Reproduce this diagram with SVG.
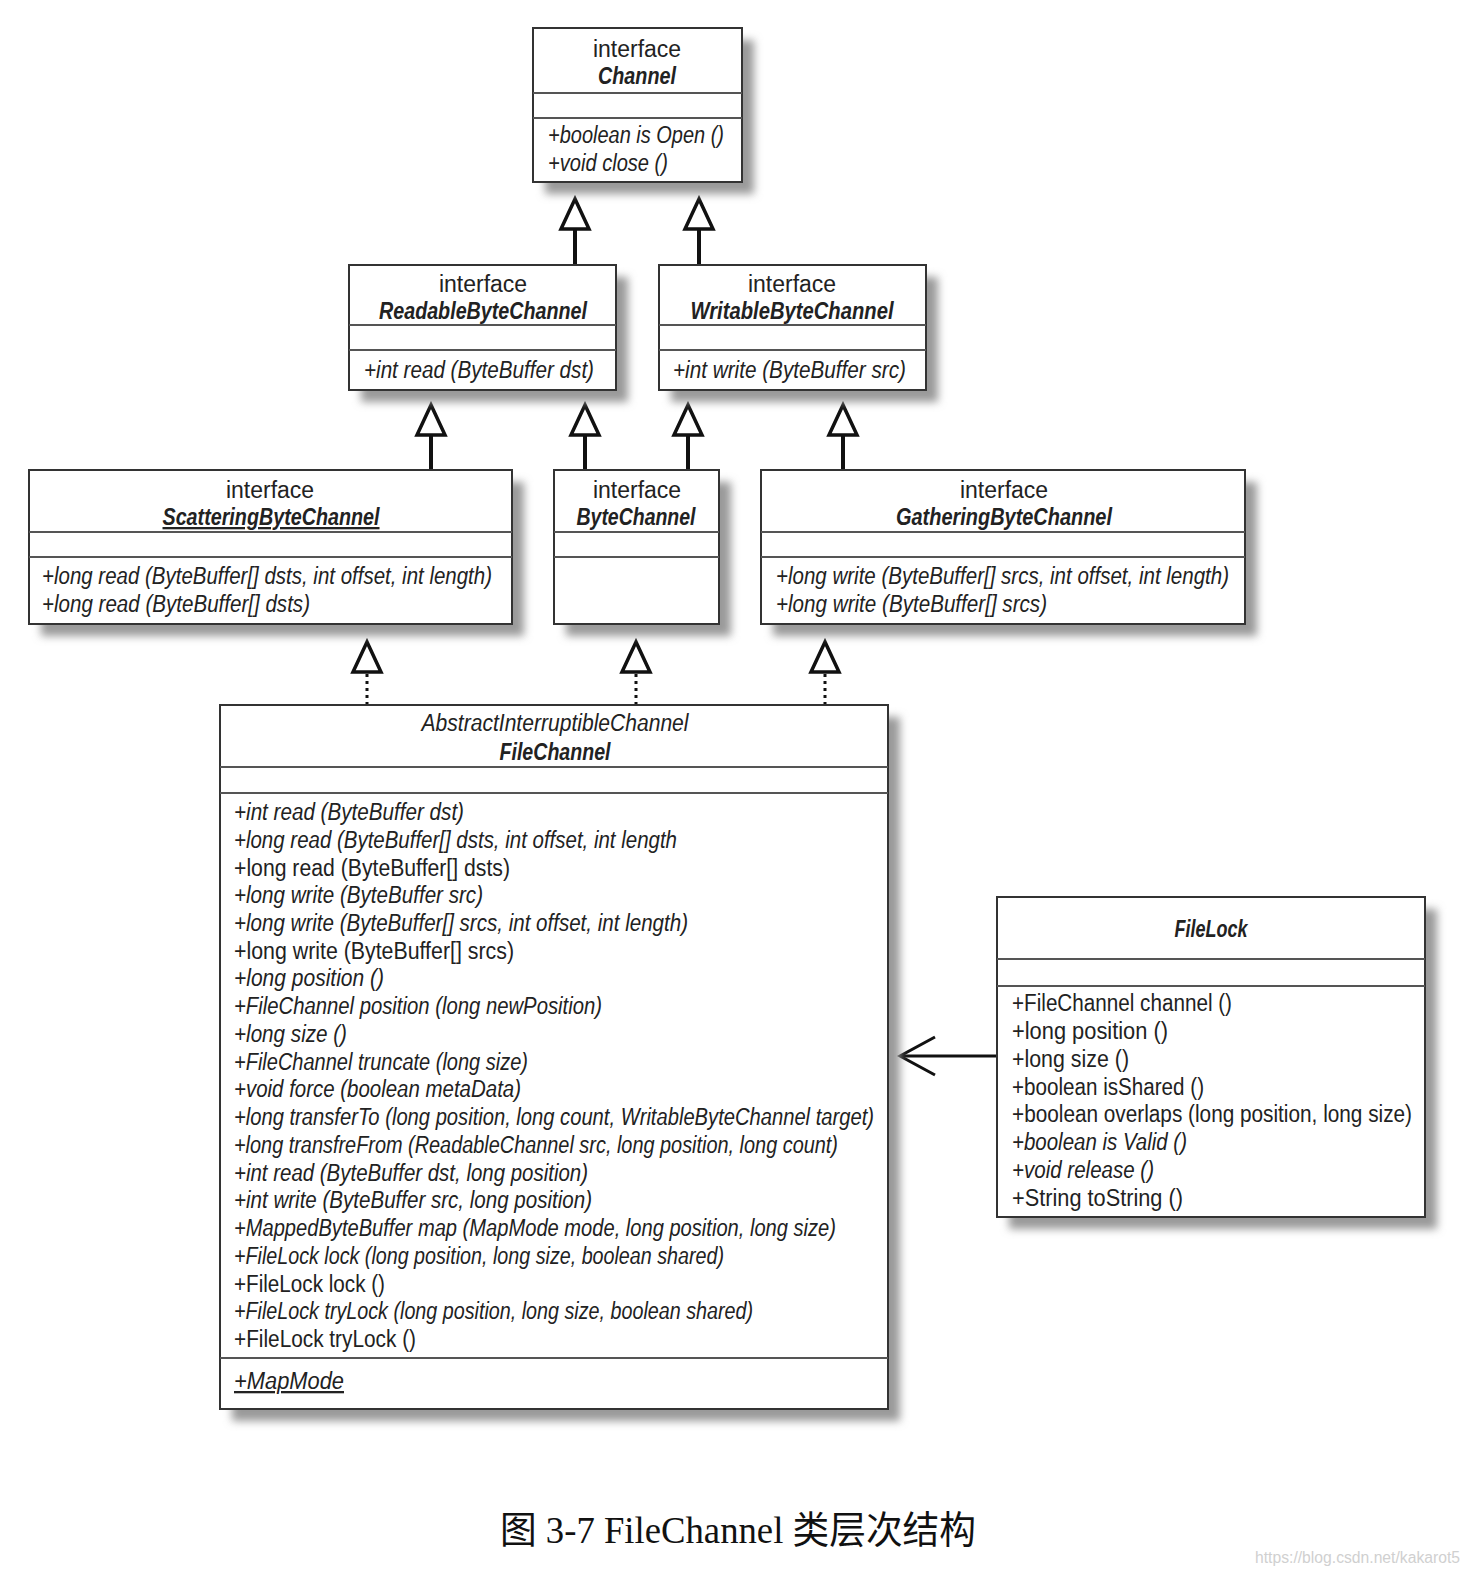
<svg xmlns="http://www.w3.org/2000/svg" width="1476" height="1578" viewBox="0 0 1476 1578">
<defs>
<filter id="blur" x="-10%" y="-10%" width="120%" height="120%"><feGaussianBlur stdDeviation="4"/></filter>
</defs>
<style>
.t{font-family:"Liberation Sans Narrow","Liberation Sans",Arial,sans-serif;font-size:23px;fill:#222}
.c{text-anchor:middle}
.i{font-style:italic}
.b{font-style:italic;font-weight:bold}
.u{text-decoration:underline}
.box{fill:#fff;stroke:#333;stroke-width:2}
.dv{stroke:#555;stroke-width:2}
.sh{fill:#9a9a9a;filter:url(#blur)}
.gen{stroke:#111;stroke-width:4;fill:none}
.tri{fill:#fff;stroke:#111;stroke-width:3.5;stroke-linejoin:miter}
.dot{stroke:#111;stroke-width:3;stroke-dasharray:3 4;fill:none}
.as{stroke:#111;stroke-width:3;fill:none}
</style>
<rect width="1476" height="1578" fill="#fff"/>

<g id="connectors">
<line class="gen" x1="575" y1="265" x2="575" y2="229"/><polygon class="tri" points="575,199 561,229 589,229"/>
<line class="gen" x1="699" y1="265" x2="699" y2="229"/><polygon class="tri" points="699,199 685,229 713,229"/>
<line class="gen" x1="431" y1="470" x2="431" y2="435"/><polygon class="tri" points="431,405 417,435 445,435"/>
<line class="gen" x1="585" y1="470" x2="585" y2="435"/><polygon class="tri" points="585,405 571,435 599,435"/>
<line class="gen" x1="688" y1="470" x2="688" y2="435"/><polygon class="tri" points="688,405 674,435 702,435"/>
<line class="gen" x1="843" y1="470" x2="843" y2="435"/><polygon class="tri" points="843,405 829,435 857,435"/>
<line class="dot" x1="367" y1="705" x2="367" y2="672"/><polygon class="tri" points="367,642 353,672 381,672"/>
<line class="dot" x1="636" y1="705" x2="636" y2="672"/><polygon class="tri" points="636,642 622,672 650,672"/>
<line class="dot" x1="825" y1="705" x2="825" y2="672"/><polygon class="tri" points="825,642 811,672 839,672"/>
<line class="as" x1="997" y1="1056" x2="901" y2="1056"/><polyline class="as" points="935,1037 900,1056 935,1075"/>
</g>

<g id="Channel">
<rect class="sh" x="545" y="40" width="209" height="154"/>
<rect class="box" x="533" y="28" width="209" height="154"/>
<line class="dv" x1="533" y1="93" x2="742" y2="93"/><line class="dv" x1="533" y1="118" x2="742" y2="118"/>
<text class="t c" x="637" y="57">interface</text>
<text class="t c b" x="637" y="84" textLength="78" lengthAdjust="spacingAndGlyphs">Channel</text>
<text class="t i" x="548" y="143" textLength="176" lengthAdjust="spacingAndGlyphs">+boolean is Open ()</text>
<text class="t i" x="548" y="171" textLength="120" lengthAdjust="spacingAndGlyphs">+void close ()</text>
</g>

<g id="ReadableByteChannel">
<rect class="sh" x="361" y="277" width="267" height="125"/>
<rect class="box" x="349" y="265" width="267" height="125"/>
<line class="dv" x1="349" y1="325" x2="616" y2="325"/><line class="dv" x1="349" y1="350" x2="616" y2="350"/>
<text class="t c" x="483" y="292">interface</text>
<text class="t c b" x="483" y="319" textLength="208" lengthAdjust="spacingAndGlyphs">ReadableByteChannel</text>
<text class="t i" x="364" y="378" textLength="230" lengthAdjust="spacingAndGlyphs">+int read (ByteBuffer dst)</text>
</g>

<g id="WritableByteChannel">
<rect class="sh" x="671" y="277" width="267" height="125"/>
<rect class="box" x="659" y="265" width="267" height="125"/>
<line class="dv" x1="659" y1="325" x2="926" y2="325"/><line class="dv" x1="659" y1="350" x2="926" y2="350"/>
<text class="t c" x="792" y="292">interface</text>
<text class="t c b" x="792" y="319" textLength="203" lengthAdjust="spacingAndGlyphs">WritableByteChannel</text>
<text class="t i" x="673" y="378" textLength="233" lengthAdjust="spacingAndGlyphs">+int write (ByteBuffer src)</text>
</g>

<g id="ScatteringByteChannel">
<rect class="sh" x="41" y="482" width="483" height="154"/>
<rect class="box" x="29" y="470" width="483" height="154"/>
<line class="dv" x1="29" y1="532" x2="512" y2="532"/><line class="dv" x1="29" y1="557" x2="512" y2="557"/>
<text class="t c" x="270" y="498">interface</text>
<text class="t c b u" x="271" y="525" textLength="217" lengthAdjust="spacingAndGlyphs">ScatteringByteChannel</text>
<text class="t i" x="42" y="584" textLength="450" lengthAdjust="spacingAndGlyphs">+long read (ByteBuffer[] dsts, int offset, int length)</text>
<text class="t i" x="42" y="612" textLength="268" lengthAdjust="spacingAndGlyphs">+long read (ByteBuffer[] dsts)</text>
</g>

<g id="ByteChannel">
<rect class="sh" x="566" y="482" width="165" height="154"/>
<rect class="box" x="554" y="470" width="165" height="154"/>
<line class="dv" x1="554" y1="532" x2="719" y2="532"/><line class="dv" x1="554" y1="557" x2="719" y2="557"/>
<text class="t c" x="637" y="498">interface</text>
<text class="t c b" x="636" y="525" textLength="119" lengthAdjust="spacingAndGlyphs">ByteChannel</text>
</g>

<g id="GatheringByteChannel">
<rect class="sh" x="773" y="482" width="484" height="154"/>
<rect class="box" x="761" y="470" width="484" height="154"/>
<line class="dv" x1="761" y1="532" x2="1245" y2="532"/><line class="dv" x1="761" y1="557" x2="1245" y2="557"/>
<text class="t c" x="1004" y="498">interface</text>
<text class="t c b" x="1004" y="525" textLength="216" lengthAdjust="spacingAndGlyphs">GatheringByteChannel</text>
<text class="t i" x="776" y="584" textLength="453" lengthAdjust="spacingAndGlyphs">+long write (ByteBuffer[] srcs, int offset, int length)</text>
<text class="t i" x="776" y="612" textLength="271" lengthAdjust="spacingAndGlyphs">+long write (ByteBuffer[] srcs)</text>
</g>

<g id="FileChannel">
<rect class="sh" x="232" y="717" width="668" height="704"/>
<rect class="box" x="220" y="705" width="668" height="704"/>
<line class="dv" x1="220" y1="767" x2="888" y2="767"/><line class="dv" x1="220" y1="793" x2="888" y2="793"/><line class="dv" x1="220" y1="1358" x2="888" y2="1358"/>
<text class="t c i" x="555" y="731" textLength="267" lengthAdjust="spacingAndGlyphs">AbstractInterruptibleChannel</text>
<text class="t c b" x="555" y="760" textLength="111" lengthAdjust="spacingAndGlyphs">FileChannel</text>
<text class="t i" x="234" y="820" textLength="230" lengthAdjust="spacingAndGlyphs">+int read (ByteBuffer dst)</text>
<text class="t i" x="234" y="847.7" textLength="443" lengthAdjust="spacingAndGlyphs">+long read (ByteBuffer[] dsts, int offset, int length</text>
<text class="t" x="234" y="875.5" textLength="276" lengthAdjust="spacingAndGlyphs">+long read (ByteBuffer[] dsts)</text>
<text class="t i" x="234" y="903.2" textLength="249" lengthAdjust="spacingAndGlyphs">+long write (ByteBuffer src)</text>
<text class="t i" x="234" y="931" textLength="454" lengthAdjust="spacingAndGlyphs">+long write (ByteBuffer[] srcs, int offset, int length)</text>
<text class="t" x="234" y="958.7" textLength="280" lengthAdjust="spacingAndGlyphs">+long write (ByteBuffer[] srcs)</text>
<text class="t i" x="234" y="986.4" textLength="150" lengthAdjust="spacingAndGlyphs">+long position ()</text>
<text class="t i" x="234" y="1014.2" textLength="368" lengthAdjust="spacingAndGlyphs">+FileChannel position (long newPosition)</text>
<text class="t i" x="234" y="1041.9" textLength="113" lengthAdjust="spacingAndGlyphs">+long size ()</text>
<text class="t i" x="234" y="1069.7" textLength="294" lengthAdjust="spacingAndGlyphs">+FileChannel truncate (long size)</text>
<text class="t i" x="234" y="1097.4" textLength="287" lengthAdjust="spacingAndGlyphs">+void force (boolean metaData)</text>
<text class="t i" x="234" y="1125.1" textLength="640" lengthAdjust="spacingAndGlyphs">+long transferTo (long position, long count, WritableByteChannel target)</text>
<text class="t i" x="234" y="1152.9" textLength="604" lengthAdjust="spacingAndGlyphs">+long transfreFrom (ReadableChannel src, long position, long count)</text>
<text class="t i" x="234" y="1180.6" textLength="354" lengthAdjust="spacingAndGlyphs">+int read (ByteBuffer dst, long position)</text>
<text class="t i" x="234" y="1208.4" textLength="358" lengthAdjust="spacingAndGlyphs">+int write (ByteBuffer src, long position)</text>
<text class="t i" x="234" y="1236.1" textLength="602" lengthAdjust="spacingAndGlyphs">+MappedByteBuffer map (MapMode mode, long position, long size)</text>
<text class="t i" x="234" y="1263.8" textLength="490" lengthAdjust="spacingAndGlyphs">+FileLock lock (long position, long size, boolean shared)</text>
<text class="t" x="234" y="1291.6" textLength="151" lengthAdjust="spacingAndGlyphs">+FileLock lock ()</text>
<text class="t i" x="234" y="1319.3" textLength="519" lengthAdjust="spacingAndGlyphs">+FileLock tryLock (long position, long size, boolean shared)</text>
<text class="t" x="234" y="1347" textLength="182" lengthAdjust="spacingAndGlyphs">+FileLock tryLock ()</text>
<text class="t i u" x="234" y="1389" textLength="110" lengthAdjust="spacingAndGlyphs">+MapMode</text>
</g>

<g id="FileLock">
<rect class="sh" x="1009" y="909" width="428" height="320"/>
<rect class="box" x="997" y="897" width="428" height="320"/>
<line class="dv" x1="997" y1="959" x2="1425" y2="959"/><line class="dv" x1="997" y1="986" x2="1425" y2="986"/>
<text class="t c b" x="1211" y="937" textLength="73" lengthAdjust="spacingAndGlyphs">FileLock</text>
<text class="t" x="1012" y="1011" textLength="220" lengthAdjust="spacingAndGlyphs">+FileChannel channel ()</text>
<text class="t" x="1012" y="1039" textLength="156" lengthAdjust="spacingAndGlyphs">+long position ()</text>
<text class="t" x="1012" y="1067" textLength="117" lengthAdjust="spacingAndGlyphs">+long size ()</text>
<text class="t" x="1012" y="1095" textLength="192" lengthAdjust="spacingAndGlyphs">+boolean isShared ()</text>
<text class="t" x="1012" y="1122" textLength="400" lengthAdjust="spacingAndGlyphs">+boolean overlaps (long position, long size)</text>
<text class="t i" x="1012" y="1150" textLength="175" lengthAdjust="spacingAndGlyphs">+boolean is Valid ()</text>
<text class="t i" x="1012" y="1178" textLength="142" lengthAdjust="spacingAndGlyphs">+void release ()</text>
<text class="t" x="1012" y="1206" textLength="171" lengthAdjust="spacingAndGlyphs">+String toString ()</text>
</g>

<text x="500" y="1543" font-family="'Liberation Serif','Noto Sans CJK SC',serif" font-size="38" fill="#111" textLength="476" lengthAdjust="spacingAndGlyphs">图 3-7 FileChannel 类层次结构</text>
<text x="1255" y="1563" font-family="'Liberation Sans',Arial,sans-serif" font-size="16" fill="#d0d0d0" textLength="205" lengthAdjust="spacingAndGlyphs">https://blog.csdn.net/kakarot5</text>
</svg>
